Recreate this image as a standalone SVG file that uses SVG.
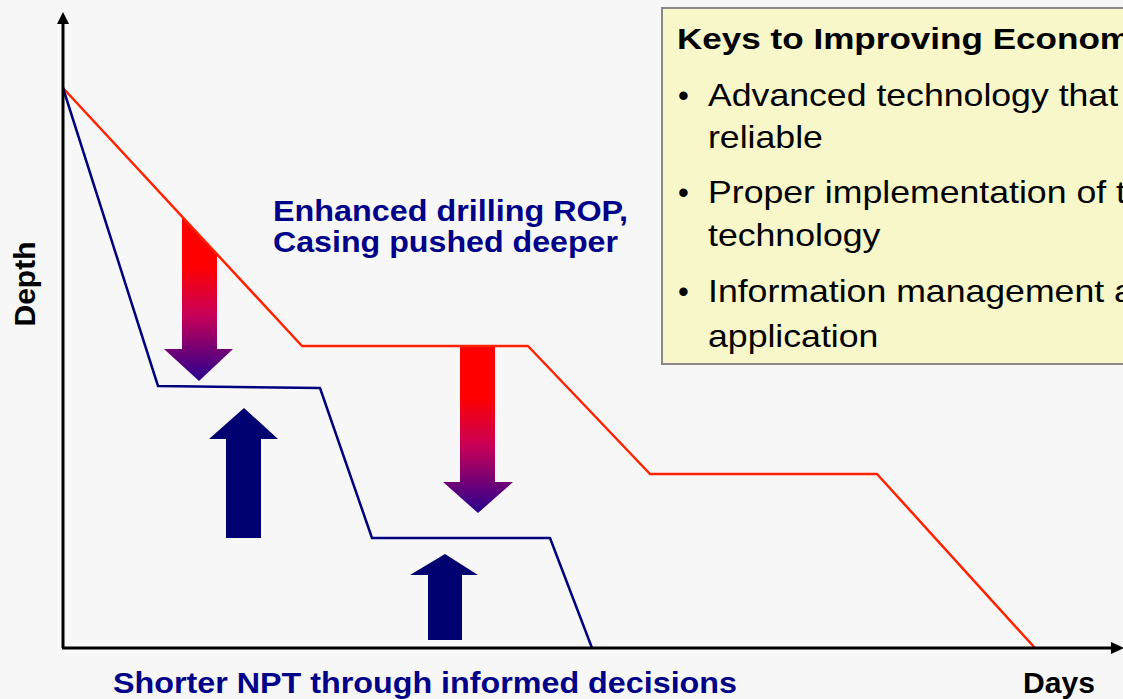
<svg xmlns="http://www.w3.org/2000/svg" width="1123" height="699" viewBox="0 0 1123 699">
<style>
.bold{font-family:"Liberation Sans",Arial,sans-serif;font-weight:bold;}
.reg{font-family:"Liberation Sans",Arial,sans-serif;}
.blue{fill:#000088;}
.axis{stroke:#000;stroke-width:3;fill:none;}
.red{stroke:#ff2200;stroke-width:2.5;fill:none;stroke-linejoin:round;}
.navy{stroke:#00007f;stroke-width:2.5;fill:none;stroke-linejoin:round;}
.up{fill:#000070;}
</style>
<defs>
<linearGradient id="rg" x1="0" y1="0" x2="0" y2="1">
<stop offset="0" stop-color="#ff0000"/>
<stop offset="0.3" stop-color="#ff0000"/>
<stop offset="0.6" stop-color="#c80058"/>
<stop offset="1" stop-color="#28008f"/>
</linearGradient>
</defs>
<rect x="0" y="0" width="1123" height="699" fill="#f7f7f7"/>

<g id="keys-box">
<rect x="662" y="8" width="480" height="356" fill="#f8f7c9" stroke="#8a8a8a" stroke-width="2"/>
<text class="bold" font-size="29" fill="#000" transform="translate(677,49) scale(1.21,1)">Keys to Improving Econom</text>
<g class="reg" font-size="31" fill="#000">
<text x="678" y="106">•</text>
<text transform="translate(708,106) scale(1.15,1)">Advanced technology that</text>
<text transform="translate(708,148) scale(1.15,1)">reliable</text>
<text x="678" y="203">•</text>
<text transform="translate(708,203) scale(1.15,1)">Proper implementation of t</text>
<text transform="translate(708,246) scale(1.15,1)">technology</text>
<text x="678" y="302">•</text>
<text transform="translate(708,302) scale(1.15,1)">Information management a</text>
<text transform="translate(708,347) scale(1.15,1)">application</text>
</g>
</g>

<g id="down-arrows">
<polygon fill="url(#rg)" points="182,216.5 217,254 217,349 233,349 199,381 164,349 182,349"/>
<polygon fill="url(#rg)" points="460,346 495,346 495,482 513,482 478,513 443,482 460,482"/>
</g>

<g id="up-arrows">
<polygon class="up" points="226,538 261,538 261,439 278,439 244,408 209,439 226,439"/>
<polygon class="up" points="428,640 462,640 462,575 478,575 445,554 410,575 428,575"/>
</g>

<g id="connectors">
<polyline class="red" points="63,88 302,346 528,346 650,474 877,474 1035,648"/>
<polyline class="navy" points="63,88 158,386 320,388 372,538 550,538 592,648"/>
</g>

<g id="axes">
<line class="axis" x1="63" y1="648" x2="63" y2="22"/>
<polygon points="63,12 57,24 69,24" fill="#000"/>
<line class="axis" x1="62" y1="648" x2="1112" y2="648"/>
<polygon points="1124,648 1111,642 1111,654" fill="#000"/>
</g>

<g id="labels">
<text class="bold blue" font-size="29" x="273" y="221" textLength="355" lengthAdjust="spacingAndGlyphs">Enhanced drilling ROP,</text>
<text class="bold blue" font-size="29" x="273" y="252" textLength="345" lengthAdjust="spacingAndGlyphs">Casing pushed deeper</text>
<text class="bold blue" font-size="29" x="113" y="693" textLength="624" lengthAdjust="spacingAndGlyphs">Shorter NPT through informed decisions</text>
<text class="bold" font-size="29" fill="#000" x="1023" y="693" textLength="72" lengthAdjust="spacingAndGlyphs">Days</text>
<text class="bold" font-size="30" fill="#000" text-anchor="middle" transform="translate(35,284) rotate(-90)">Depth</text>
</g>
</svg>
